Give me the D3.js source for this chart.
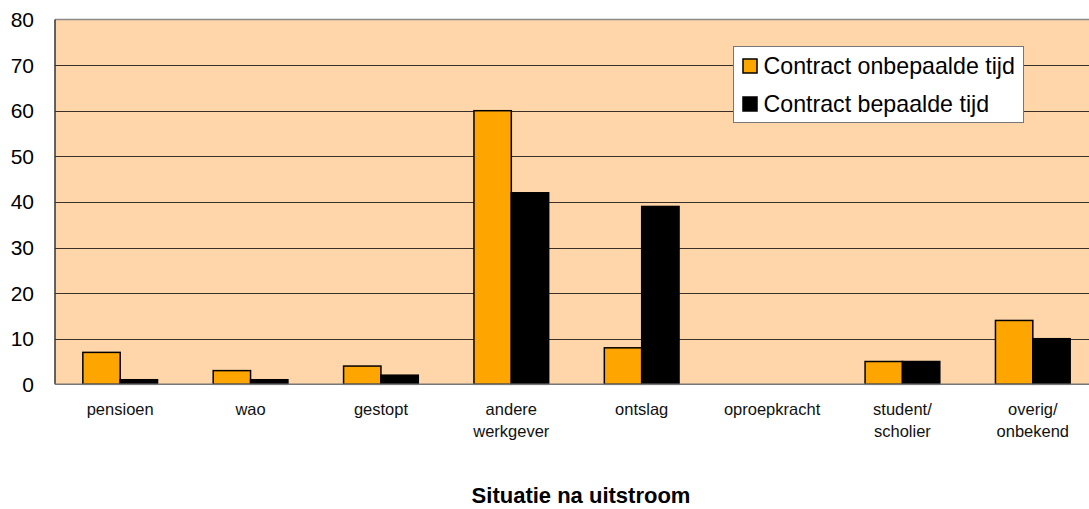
<!DOCTYPE html>
<html>
<head>
<meta charset="utf-8">
<script src="https://cdn.jsdelivr.net/npm/d3@7"></script>
<style>
  body { margin: 0; background: #fff; }
  svg { display: block; font-family: "Liberation Sans", Arial, sans-serif; }
</style>
</head>
<body>
<div id="chart"></div>
<script>
const categories = [
  ["pensioen"], ["wao"], ["gestopt"], ["andere", "werkgever"],
  ["ontslag"], ["oproepkracht"], ["student/", "scholier"], ["overig/", "onbekend"],
];
const seriesNames = ["Contract onbepaalde tijd", "Contract bepaalde tijd"];
const onbepaald = [7, 3, 4, 60, 8, 0, 5, 14];
const bepaald = [1, 1, 2, 42, 39, 0, 5, 10];
const yTicks = [0, 10, 20, 30, 40, 50, 60, 70, 80];
const colors = ["#FFA500", "#000000"];

const width = 1089, height = 509;
const plotLeft = 55, plotRight = 1098, plotTop = 19.5, plotBottom = 384.3;

const svg = d3.select("#chart").append("svg")
  .attr("width", width).attr("height", height);

const x = d3.scaleBand()
  .domain(d3.range(categories.length))
  .range([plotLeft, plotRight])
  .paddingInner(0.427)
  .paddingOuter(0.2135);
const x1 = d3.scaleBand().domain([0, 1]).range([0, x.bandwidth()]);
const y = d3.scaleLinear().domain([0, 80]).range([plotBottom, plotTop]);

// plot background
svg.append("rect")
  .attr("x", plotLeft).attr("y", plotTop)
  .attr("width", plotRight - plotLeft).attr("height", plotBottom - plotTop)
  .attr("fill", "#FFD6AA");

// gridlines
svg.append("g").selectAll("line")
  .data(yTicks.filter(d => d > 0 && d < 80))
  .join("line")
  .attr("x1", plotLeft).attr("x2", plotRight)
  .attr("y1", d => Math.round(y(d)) + 0.5).attr("y2", d => Math.round(y(d)) + 0.5)
  .attr("stroke", "#3a3028").attr("stroke-width", 1);

// top border
svg.append("line")
  .attr("x1", plotLeft).attr("x2", plotRight)
  .attr("y1", y(80)).attr("y2", y(80))
  .attr("stroke", "#8a8a8a").attr("stroke-width", 1.5);

// bars
const data = categories.map((c, i) => [onbepaald[i], bepaald[i]]);
svg.append("g").selectAll("g")
  .data(data)
  .join("g")
  .attr("transform", (d, i) => `translate(${x(i)},0)`)
  .selectAll("rect")
  .data(d => d.map((v, s) => ({ v, s })))
  .join("rect")
  .attr("x", d => x1(d.s))
  .attr("y", d => y(d.v))
  .attr("width", x1.bandwidth())
  .attr("height", d => y(0) - y(d.v))
  .attr("fill", d => colors[d.s])
  .attr("stroke", d => d.v > 0 ? "#000" : "none")
  .attr("stroke-width", 1.5);

// y axis line
svg.append("line")
  .attr("x1", plotLeft).attr("x2", plotLeft)
  .attr("y1", plotTop).attr("y2", plotBottom)
  .attr("stroke", "#333").attr("stroke-width", 1.5);
// x axis line
svg.append("line")
  .attr("x1", plotLeft).attr("x2", plotRight)
  .attr("y1", plotBottom).attr("y2", plotBottom)
  .attr("stroke", "#777").attr("stroke-width", 1.5);

// y tick labels
svg.append("g").selectAll("text")
  .data(yTicks)
  .join("text")
  .attr("x", 34)
  .attr("y", d => y(d))
  .attr("dy", "0.36em")
  .attr("text-anchor", "end")
  .attr("font-size", 21)
  .attr("fill", "#000")
  .text(d => d);

// category labels
const cat = svg.append("g").selectAll("text")
  .data(categories)
  .join("text")
  .attr("text-anchor", "middle")
  .attr("font-size", 16.5)
  .attr("fill", "#111")
  .attr("x", (d, i) => x(i) + x.bandwidth() / 2)
  .attr("y", 415);
cat.selectAll("tspan")
  .data(d => d)
  .join("tspan")
  .attr("x", function () { return d3.select(this.parentNode).attr("x"); })
  .attr("dy", (d, i) => i === 0 ? 0 : 22)
  .text(d => d);

// axis title
svg.append("text")
  .attr("x", 581).attr("y", 503)
  .attr("text-anchor", "middle")
  .attr("font-size", 22)
  .attr("font-weight", "bold")
  .text("Situatie na uitstroom");

// legend
const legend = svg.append("g").attr("transform", "translate(733.5,46.5)");
legend.append("rect")
  .attr("width", 290).attr("height", 76)
  .attr("fill", "#fff").attr("stroke", "#777").attr("stroke-width", 1);
const item = legend.selectAll("g.item")
  .data(seriesNames)
  .join("g")
  .attr("class", "item")
  .attr("transform", (d, i) => `translate(0,${19.5 + i * 38})`);
item.append("rect")
  .attr("x", 9.5).attr("y", -7)
  .attr("width", 14).attr("height", 14)
  .attr("fill", (d, i) => colors[i])
  .attr("stroke", "#000").attr("stroke-width", 1.5);
item.append("text")
  .attr("x", 30).attr("y", 0)
  .attr("dy", "0.36em")
  .attr("font-size", 23.2)
  .attr("fill", "#000")
  .text(d => d);
</script>
</body>
</html>
